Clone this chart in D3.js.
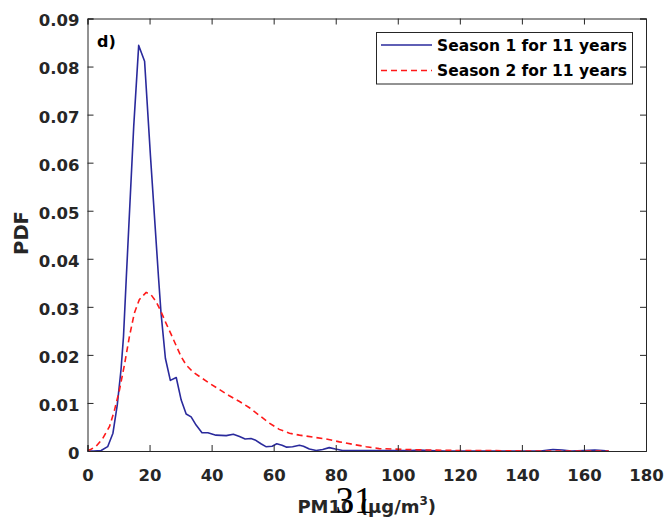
<!DOCTYPE html>
<html>
<head>
<meta charset="utf-8">
<script src="https://cdn.jsdelivr.net/npm/d3@7"></script>
<style>
html,body{margin:0;padding:0;background:#fff;}
svg{display:block;}
</style>
</head>
<body>
<svg id="chart" width="664" height="520"></svg>
<script>
// ---- data ----
const season1X = [0, 2, 4.4, 6.5, 8.2, 9.6, 10.8, 11.6, 12.5, 14.9, 16.5, 18.4, 20.3, 22.9, 23.7, 25.1, 26.7, 28.6, 30.2, 31.8, 33.4, 35.0, 36.9, 38.8, 41.4, 44.7, 47.0, 49.0, 50.8, 52.7, 54.0, 55.9, 57.5, 59.5, 61.0, 62.7, 64.2, 66.1, 68.3, 69.6, 71.5, 73.7, 75.8, 77.9, 79.9, 82.2, 85, 90, 95, 100, 104, 107, 110, 115, 120, 130, 140, 146, 150, 153, 156, 160, 163.5, 166, 168];
const season1Y = [0, 0, 0.0001, 0.0009, 0.0037, 0.0096, 0.0169, 0.0238, 0.036, 0.0676, 0.0844, 0.0811, 0.0613, 0.036, 0.0287, 0.0193, 0.0147, 0.0153, 0.0106, 0.0077, 0.0071, 0.0054, 0.0038, 0.0038, 0.0033, 0.0032, 0.0035, 0.003, 0.0025, 0.0026, 0.0023, 0.0015, 0.0009, 0.001, 0.0015, 0.0012, 0.0008, 0.0009, 0.0012, 0.001, 0.0004, 0.0001, 0.0003, 0.0007, 0.0004, 0.0001, 0.0001, 0.0001, 0.0001, 0.0001, 0.0001, 0.0002, 0.0001, 0, 0, 0, 0, 0, 0.0003, 0.0002, 0, 0.0001, 0.0002, 0.0001, 0];
const season2X = [0, 1, 2.8, 4.9, 7.1, 8.7, 10.3, 11.9, 13.5, 15.1, 16.7, 18.9, 20.5, 22.1, 23.7, 25.3, 27.0, 28.6, 30.2, 31.8, 33.9, 36.1, 39.3, 42.5, 45.7, 49.0, 52.2, 55.4, 58.6, 61.8, 65.1, 68.3, 72.6, 76.9, 81.2, 85.4, 89.8, 94.0, 98.3, 103, 110, 120, 130, 140, 150, 160, 168];
const season2Y = [0.0001, 0.0003, 0.001, 0.0026, 0.0051, 0.0085, 0.0127, 0.0179, 0.0238, 0.0287, 0.0315, 0.033, 0.0325, 0.0311, 0.029, 0.0266, 0.0242, 0.0219, 0.0196, 0.0179, 0.0165, 0.0155, 0.0141, 0.0128, 0.0115, 0.0103, 0.009, 0.0074, 0.0058, 0.0045, 0.0037, 0.0033, 0.0029, 0.0025, 0.0019, 0.0014, 0.0009, 0.0005, 0.0004, 0.0003, 0.0002, 0.0001, 0.0001, 0, 0, 0, 0];
const xTicks = [0, 20, 40, 60, 80, 100, 120, 140, 160, 180];
const yTicks = [0, 0.01, 0.02, 0.03, 0.04, 0.05, 0.06, 0.07, 0.08, 0.09];
const seriesNames = ["Season 1 for 11 years", "Season 2 for 11 years"];
const panelLabel = "d)";
const xLabel = "PM10 (μg/m";
const yLabel = "PDF";
const pageNumber = "31";

// ---- layout ----
const L = 87.5, R = 646, T = 18.5, B = 451;
const svg = d3.select("#chart");
const x = d3.scaleLinear().domain([0, 180]).range([L, R]);
const y = d3.scaleLinear().domain([0, 0.09]).range([B, T]);
const axisColor = "#262626";
const tickFont = "'DejaVu Sans', sans-serif";

svg.append("rect").attr("x", L).attr("y", T).attr("width", R - L).attr("height", B - T)
  .attr("fill", "#fff").attr("stroke", "none");

// curves
const line = d3.line().x(d => x(d[0])).y(d => y(d[1]));
const s1 = season1X.map((v, i) => [v, season1Y[i]]);
const s2 = season2X.map((v, i) => [v, season2Y[i]]);
svg.append("path").datum(s1).attr("d", line).attr("fill", "none")
  .attr("stroke", "#2a2a9c").attr("stroke-width", 1.6).attr("stroke-linejoin", "round");
svg.append("path").datum(s2).attr("d", line).attr("fill", "none")
  .attr("stroke", "#ff1a1a").attr("stroke-width", 1.6).attr("stroke-dasharray", "6,4");

// axes (ticks inward, box)
const xAxisB = d3.axisBottom(x).tickValues(xTicks).tickSize(-6).tickPadding(18).tickFormat(d3.format("d"));
const xAxisT = d3.axisTop(x).tickValues(xTicks).tickSize(-6).tickFormat("");
const yAxisL = d3.axisLeft(y).tickValues(yTicks).tickSize(-6).tickPadding(8).tickFormat(d => d === 0 ? "0" : d3.format(".2f")(d));
const yAxisR = d3.axisRight(y).tickValues(yTicks).tickSize(-6).tickFormat("");

function style(g) {
  g.selectAll("path.domain").attr("stroke", axisColor).attr("stroke-width", 1);
  g.selectAll("line").attr("stroke", axisColor).attr("stroke-width", 1);
  g.selectAll("text").attr("fill", axisColor).attr("font-family", tickFont)
    .attr("font-weight", "bold").attr("font-size", 16.5);
}
svg.append("g").attr("transform", `translate(0,${B})`).call(xAxisB).call(style);
svg.append("g").attr("transform", `translate(0,${T})`).call(xAxisT).call(style);
const gy = svg.append("g").attr("transform", `translate(${L},0)`).call(yAxisL).call(style);
gy.selectAll("text").attr("dy", "0.45em");
svg.append("g").attr("transform", `translate(${R},0)`).call(yAxisR).call(style);

// panel label
svg.append("text").attr("x", 97).attr("y", 46.5).text(panelLabel)
  .attr("font-family", tickFont).attr("font-weight", "bold").attr("font-size", 16).attr("fill", "#000");

// axis labels
const xl = svg.append("text").attr("x", (L + R) / 2).attr("y", 513).attr("text-anchor", "middle")
  .attr("font-family", tickFont).attr("font-weight", "bold").attr("font-size", 18).attr("fill", axisColor);
xl.append("tspan").text(xLabel);
xl.append("tspan").attr("font-size", 12).attr("dy", -8).text("3");
xl.append("tspan").attr("dy", 8).text(")");

svg.append("text").attr("transform", `translate(28,233) rotate(-90)`).attr("text-anchor", "middle")
  .attr("font-family", tickFont).attr("font-weight", "bold").attr("font-size", 19.5).attr("fill", axisColor)
  .text(yLabel);

// legend
const lg = svg.append("g");
lg.append("rect").attr("x", 376.5).attr("y", 32.5).attr("width", 256).attr("height", 51.5)
  .attr("fill", "#fff").attr("stroke", axisColor).attr("stroke-width", 1);
const legendRows = [
  { name: seriesNames[0], color: "#2a2a9c", dash: null, yy: 45 },
  { name: seriesNames[1], color: "#ff1a1a", dash: "6,4", yy: 70.5 }
];
legendRows.forEach(r => {
  lg.append("line").attr("x1", 381).attr("x2", 432).attr("y1", r.yy).attr("y2", r.yy)
    .attr("stroke", r.color).attr("stroke-width", 1.6).attr("stroke-dasharray", r.dash);
  lg.append("text").attr("x", 437).attr("y", r.yy + 5.5).text(r.name)
    .attr("font-family", tickFont).attr("font-weight", "bold").attr("font-size", 15.5).attr("fill", "#000");
});

// page number overlay (overlaps the x label, as in the reference)
svg.append("text").attr("x", 354).attr("y", 513).attr("text-anchor", "middle")
  .attr("font-family", "'Liberation Serif', serif").attr("font-size", 37).attr("fill", "#000")
  .text(pageNumber);
</script>
</body>
</html>
